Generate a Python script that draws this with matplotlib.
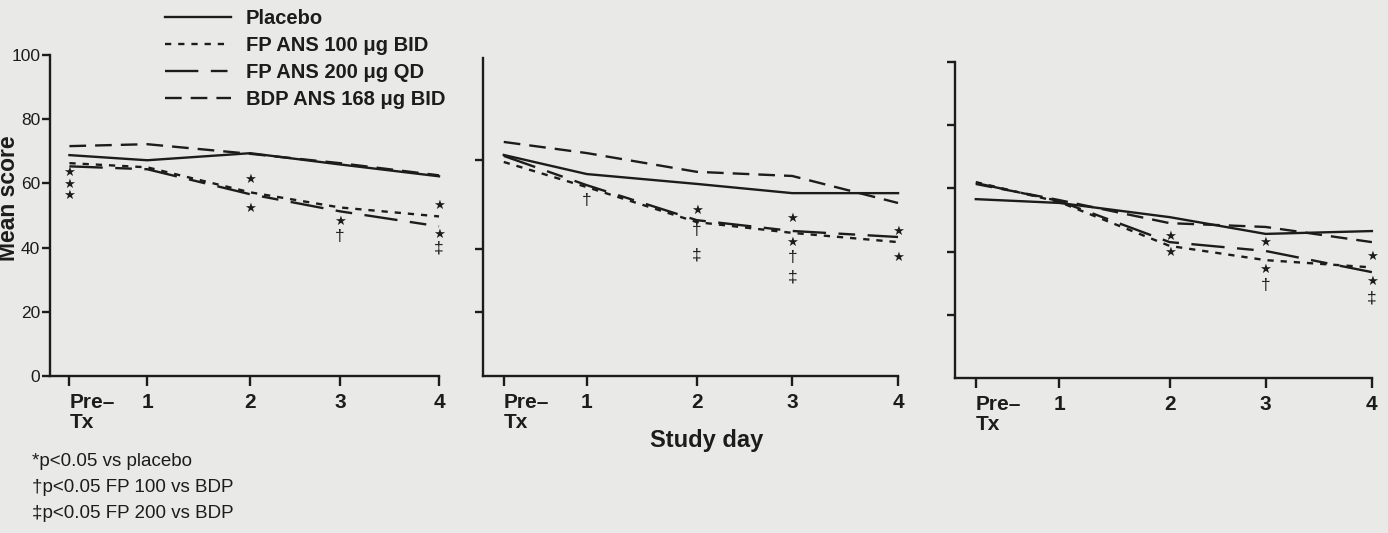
import matplotlib
matplotlib.use("Agg")
import matplotlib.pyplot as plt

plt.rcParams['font.family'] = ['Liberation Sans', 'DejaVu Sans']
plt.rcParams['lines.scale_dashes'] = False

# x categories (study day) and their positions on the axis
day_labels = ['Pre\u2013\nTx', '1', '2', '3', '4']
day_pos = [0.2, 1.0, 2.06, 2.98, 4.0]

# mean scores, one row per panel
placebo = [[68.8, 67.2, 69.4, 65.9, 62.2],
           [69.5, 63.5, 60.4, 57.5, 57.5],
           [56.6, 55.4, 50.9, 45.6, 46.5]]
fp100 = [[66.3, 65.0, 57.2, 52.5, 49.7],
         [67.3, 59.4, 48.4, 45.0, 42.1],
         [62.0, 55.7, 41.8, 37.3, 35.0]]
fp200 = [[65.3, 64.4, 56.6, 51.3, 46.6],
         [69.2, 60.0, 49.0, 45.6, 43.7],
         [61.7, 56.0, 43.0, 40.2, 33.5]]
bdp = [[71.6, 72.2, 69.2, 66.3, 62.5],
       [73.6, 70.1, 64.2, 62.9, 54.4],
       [61.4, 56.3, 49.0, 47.8, 43.0]]

series_names = ['Placebo', 'FP ANS 100 \u03bcg BID', 'FP ANS 200 \u03bcg QD', 'BDP ANS 168 \u03bcg BID']

# significance marks: (day index, score level, symbol)
marks_p1 = [(0, 63.4, '*'), (0, 59.7, '*'), (0, 56.3, '*'),
            (2, 61.3, '*'), (2, 52.2, '*'),
            (3, 48.1, '*'), (3, 43.4, '\u2020'),
            (4, 53.1, '*'), (4, 44.1, '*'), (4, 40.0, '\u2021')]
marks_p2 = [(1, 55.3, '\u2020'),
            (2, 52.2, '*'), (2, 45.9, '\u2020'), (2, 38.0, '\u2021'),
            (3, 49.7, '*'), (3, 42.1, '*'), (3, 37.4, '\u2020'), (3, 31.1, '\u2021'),
            (4, 45.3, '*'), (4, 37.4, '*')]
marks_p3 = [(2, 44.9, '*'), (2, 39.6, '*'),
            (3, 43.0, '*'), (3, 34.5, '*'), (3, 29.4, '\u2020'),
            (4, 38.6, '*'), (4, 30.4, '*'), (4, 25.3, '\u2021')]

yticks_p1 = [0, 20, 40, 60, 80, 100]
yticks_p2 = [20, 40, 68]
yticks_p3 = [20, 40, 60, 80, 100]

footnotes = ['*p<0.05 vs placebo', '\u2020p<0.05 FP 100 vs BDP', '\u2021p<0.05 FP 200 vs BDP']

bg = '#e9e9e7'
ink = '#1c1c1c'
styles = [dict(linestyle='-'),
          dict(dashes=(4.5, 5.0)),
          dict(dashes=(24, 9, 12, 9)),
          dict(dashes=(12, 6.5))]

fig = plt.figure(figsize=(13.88, 5.33), dpi=100, facecolor=bg)
rects = [[0.0360, 0.2946, 0.2803, 0.6023],
         [0.3480, 0.2946, 0.2990, 0.5966],
         [0.6880, 0.2908, 0.3004, 0.5929]]
all_marks = [marks_p1, marks_p2, marks_p3]
all_yticks = [yticks_p1, yticks_p2, yticks_p3]

for i, r in enumerate(rects):
    ax = fig.add_axes(r)
    ax.set_facecolor(bg)
    lines = []
    for vals, st in zip([placebo[i], fp100[i], fp200[i], bdp[i]], styles):
        ln, = ax.plot(day_pos, vals, color=ink, lw=1.7, clip_on=False, **st)
        lines.append(ln)
    for d, v, s in all_marks[i]:
        if s == '*':
            ax.text(day_pos[d], v, '\u2605', ha='center', va='center', fontsize=9.5,
                    family='DejaVu Sans', color=ink, clip_on=False)
        else:
            ax.text(day_pos[d], v, s, ha='center', va='center', fontsize=12.5,
                    color=ink, clip_on=False)
    ax.set_xlim(0, 4)
    ax.set_ylim(0, 100)
    for sp in ['top', 'right']:
        ax.spines[sp].set_visible(False)
    for sp in ['left', 'bottom']:
        ax.spines[sp].set_linewidth(1.7)
        ax.spines[sp].set_color(ink)
    ax.set_xticks(day_pos)
    ax.set_xticklabels(day_labels, fontsize=15, fontweight='bold', color=ink,
                       linespacing=1.1)
    ax.get_xticklabels()[0].set_ha('left')
    ax.tick_params(axis='x', direction='out', length=7, width=1.7, color=ink, pad=5)
    ax.set_yticks(all_yticks[i])
    ax.tick_params(axis='y', direction='out', length=6, width=1.7, color=ink, pad=1)
    if i == 0:
        ax.set_yticklabels([str(t) for t in yticks_p1], fontsize=12.5, color=ink)
        legend_lines = lines
    else:
        ax.set_yticklabels([])

fig.legend(legend_lines, series_names, loc='upper left',
           bbox_to_anchor=(165 / 1388, 1 - 9 / 533), frameon=False,
           prop=dict(size=14.5, weight='bold'), handlelength=3.3,
           handletextpad=0.7, labelspacing=0.4, borderpad=0, borderaxespad=0,
           labelcolor=ink)

fig.text(9 / 1388, 0.628, 'Mean score', rotation=90, ha='center', va='center',
         fontsize=16.5, fontweight='bold', color=ink)
fig.text(707 / 1388, 1 - 440 / 533, 'Study day', ha='center', va='center',
         fontsize=17, fontweight='bold', color=ink)
for k, note in enumerate(footnotes):
    fig.text(32 / 1388, 1 - (462 + 25.5 * k) / 533, note, ha='left', va='center',
             fontsize=13.5, color=ink)

fig.savefig('out.png', dpi=100, facecolor=bg)
